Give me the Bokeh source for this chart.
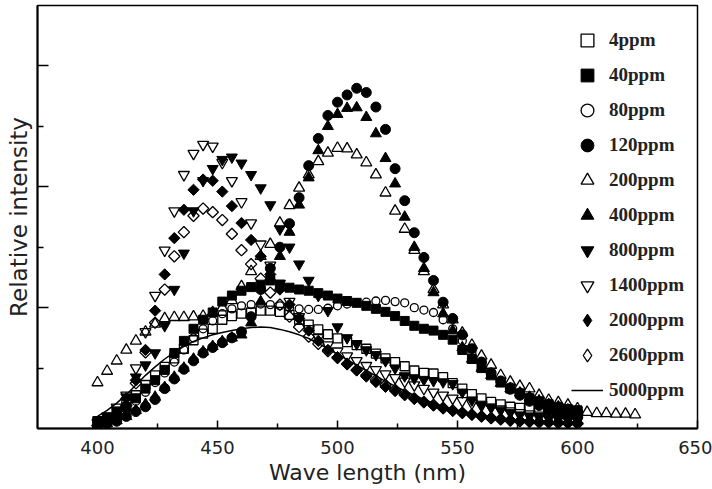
import math
from bokeh.plotting import figure
from bokeh.models import Legend, LegendItem, FixedTicker
from bokeh.embed import file_html
from bokeh.resources import INLINE

# ---------------- data ----------------
wavelength = [400 + 4 * i for i in range(51)]           # 400 .. 600 nm
wavelength_200 = [400 + 4 * i for i in range(57)]       # 400 .. 624 nm

ppm_4 = [0.12, 0.18, 0.28, 0.40, 0.55, 0.72, 0.88, 1.02, 1.16, 1.32,
         1.46, 1.57, 1.65, 1.80, 1.86, 1.90, 1.92, 1.95, 1.95, 1.93,
         1.88, 1.80, 1.72, 1.64, 1.56, 1.49, 1.43, 1.38, 1.32, 1.24,
         1.16, 1.10, 1.03, 0.96, 0.92, 0.91, 0.85, 0.75, 0.66, 0.57,
         0.50, 0.44, 0.40, 0.36, 0.34, 0.33, 0.32, 0.30, 0.30, 0.29, 0.28]
ppm_40 = [0.12, 0.18, 0.25, 0.35, 0.50, 0.66, 0.80, 0.97, 1.25, 1.45,
          1.65, 1.80, 1.92, 2.10, 2.20, 2.28, 2.34, 2.38, 2.45, 2.38,
          2.33, 2.30, 2.28, 2.24, 2.20, 2.15, 2.11, 2.08, 2.03, 1.98,
          1.93, 1.86, 1.78, 1.70, 1.65, 1.62, 1.55, 1.47, 1.30, 1.15,
          1.00, 0.88, 0.76, 0.66, 0.58, 0.50, 0.45, 0.40, 0.35, 0.32, 0.30]
ppm_80 = [0.10, 0.15, 0.22, 0.32, 0.45, 0.60, 0.76, 0.92, 1.10, 1.30,
          1.50, 1.65, 1.78, 1.90, 1.98, 2.03, 2.05, 2.06, 2.05, 2.03,
          2.00, 1.98, 1.97, 1.97, 1.99, 2.03, 2.06, 2.08, 2.09, 2.11,
          2.12, 2.10, 2.08, 2.00, 1.96, 1.92, 1.80, 1.65, 1.45, 1.25,
          1.08, 0.93, 0.80, 0.69, 0.60, 0.52, 0.46, 0.41, 0.37, 0.33, 0.30]
ppm_120 = [0.05, 0.08, 0.12, 0.20, 0.28, 0.36, 0.48, 0.66, 0.82, 0.98,
           1.12, 1.25, 1.34, 1.42, 1.50, 1.60, 1.85, 2.30, 2.65, 3.00,
           3.39, 3.82, 4.35, 4.80, 5.18, 5.40, 5.52, 5.63, 5.56, 5.32,
           4.95, 4.30, 3.77, 3.24, 2.83, 2.45, 2.09, 1.82, 1.55, 1.32,
           1.10, 0.92, 0.78, 0.65, 0.55, 0.45, 0.38, 0.30, 0.25, 0.20, 0.18]
ppm_200 = [0.76, 0.95, 1.12, 1.30, 1.45, 1.60, 1.73, 1.82, 1.84, 1.84,
           1.85, 1.86, 1.92, 2.00, 2.12, 2.35, 2.60, 2.85, 3.05, 3.40,
           3.69, 3.98, 4.20, 4.42, 4.56, 4.64, 4.63, 4.53, 4.40, 4.20,
           3.90, 3.60, 3.30, 2.95, 2.60, 2.30, 2.05, 1.80, 1.58, 1.38,
           1.20, 1.05, 0.88, 0.77, 0.70, 0.66, 0.55, 0.47, 0.43, 0.39,
           0.33, 0.27, 0.25, 0.25, 0.24, 0.24, 0.23]
ppm_400 = [0.05, 0.08, 0.13, 0.20, 0.30, 0.40, 0.52, 0.68, 0.85, 1.00,
           1.15, 1.27, 1.36, 1.44, 1.50, 1.55, 1.75, 2.10, 2.50, 2.85,
           3.25, 3.70, 4.15, 4.60, 5.00, 5.20, 5.30, 5.31, 5.15, 4.88,
           4.47, 4.05, 3.50, 3.00, 2.65, 2.25, 1.90, 1.62, 1.34, 1.15,
           1.00, 0.88, 0.75, 0.66, 0.59, 0.52, 0.46, 0.40, 0.36, 0.31, 0.28]
ppm_800 = [0.08, 0.15, 0.30, 0.52, 0.85, 1.05, 1.25, 1.70, 2.30, 2.90,
           3.60, 4.10, 4.30, 4.45, 4.49, 4.39, 4.20, 3.98, 3.70, 3.30,
           3.00, 2.72, 2.45, 2.20, 1.95, 1.68, 1.50, 1.40, 1.30, 1.22,
           1.12, 1.00, 0.87, 0.83, 0.81, 0.79, 0.77, 0.74, 0.60, 0.47,
           0.40, 0.35, 0.30, 0.26, 0.22, 0.20, 0.18, 0.16, 0.15, 0.14, 0.13]
ppm_1400 = [0.10, 0.20, 0.35, 0.55, 1.00, 1.60, 2.20, 2.95, 3.60, 4.20,
            4.55, 4.70, 4.67, 4.40, 4.10, 3.75, 3.40, 3.05, 2.70, 2.40,
            2.10, 1.85, 1.65, 1.50, 1.38, 1.28, 1.20, 1.12, 1.04, 0.97,
            0.90, 0.84, 0.78, 0.72, 0.66, 0.60, 0.55, 0.50, 0.46, 0.42,
            0.38, 0.35, 0.32, 0.29, 0.26, 0.24, 0.22, 0.20, 0.19, 0.18, 0.17]
ppm_2000 = [0.05, 0.10, 0.25, 0.50, 0.80, 1.30, 1.95, 2.55, 3.15, 3.62,
            3.95, 4.12, 4.10, 3.92, 3.68, 3.40, 3.12, 2.85, 2.55, 2.30,
            2.05, 1.82, 1.62, 1.45, 1.30, 1.18, 1.06, 0.96, 0.86, 0.77,
            0.69, 0.62, 0.55, 0.49, 0.43, 0.38, 0.33, 0.29, 0.26, 0.23,
            0.20, 0.18, 0.16, 0.14, 0.13, 0.12, 0.11, 0.10, 0.10, 0.09, 0.09]
ppm_2600 = [0.05, 0.10, 0.20, 0.38, 0.75, 1.26, 1.75, 2.30, 2.85, 3.25,
            3.52, 3.64, 3.58, 3.45, 3.22, 2.95, 2.72, 2.48, 2.25, 2.05,
            1.85, 1.68, 1.52, 1.40, 1.28, 1.17, 1.07, 0.97, 0.88, 0.80,
            0.72, 0.64, 0.57, 0.50, 0.44, 0.39, 0.34, 0.30, 0.26, 0.23,
            0.20, 0.17, 0.15, 0.13, 0.12, 0.11, 0.10, 0.10, 0.09, 0.09, 0.08]
ppm_5000 = [0.20, 0.30, 0.42, 0.56, 0.72, 0.88, 1.02, 1.15, 1.26, 1.36,
            1.44, 1.50, 1.55, 1.59, 1.62, 1.65, 1.67, 1.68, 1.67, 1.64,
            1.60, 1.55, 1.49, 1.41, 1.32, 1.23, 1.14, 1.05, 0.96, 0.87,
            0.78, 0.70, 0.62, 0.55, 0.48, 0.42, 0.37, 0.32, 0.28, 0.24,
            0.21, 0.18, 0.16, 0.14, 0.12, 0.11, 0.10, 0.09, 0.08, 0.07, 0.07]

x_ticks = [400, 450, 500, 550, 600, 650]
x_minor = [425, 475, 525, 575, 625]
y_ticks = [2, 4, 6]
y_minor = [1, 3, 5]

# ---------------- figure ----------------
p = figure(width=712, height=489, x_range=(375, 650), y_range=(0, 7),
           output_backend="svg", toolbar_location=None,
           min_border_left=37, min_border_right=15,
           min_border_top=5, min_border_bottom=61)
p.grid.visible = False
p.outline_line_color = "black"
p.outline_line_width = 1.5
p.background_fill_color = "white"
p.border_fill_color = "white"

xa = p.xaxis[0]
xa.ticker = FixedTicker(ticks=x_ticks, minor_ticks=x_minor)
xa.major_tick_in = 8
xa.major_tick_out = 0
xa.minor_tick_in = 5
xa.minor_tick_out = 0
xa.axis_line_width = 2
xa.major_tick_line_width = 1.5
xa.minor_tick_line_width = 1.5
xa.major_label_standoff = 12
xa.major_label_text_font = "DejaVu Sans"
xa.major_label_text_font_size = "18px"
xa.major_label_text_color = "#222222"
xa.axis_label = "Wave length (nm)"
xa.axis_label_text_font = "DejaVu Sans"
xa.axis_label_text_font_size = "22px"
xa.axis_label_text_font_style = "normal"
xa.axis_label_text_color = "#222222"
xa.axis_label_standoff = 3

ya = p.yaxis[0]
ya.ticker = FixedTicker(ticks=y_ticks, minor_ticks=y_minor)
ya.major_tick_in = 11
ya.major_tick_out = 0
ya.minor_tick_in = 6
ya.minor_tick_out = 0
ya.axis_line_width = 2
ya.major_tick_line_width = 1.5
ya.minor_tick_line_width = 1.5
ya.major_label_overrides = {t: "" for t in y_ticks}
ya.major_label_standoff = 0
ya.axis_label = "Relative intensity"
ya.axis_label_text_font = "DejaVu Sans"
ya.axis_label_text_font_size = "23px"
ya.axis_label_text_font_style = "normal"
ya.axis_label_text_color = "#222222"
ya.axis_label_standoff = 6

r5000 = p.line(wavelength, ppm_5000, line_color="black", line_width=1.5)

def open_marker(x, y, marker, size, angle=0.0, visible=True):
    return p.scatter(x, y, marker=marker, size=size, angle=angle,
                     line_color="black", fill_color=None, line_width=1.3,
                     visible=visible)

def solid_marker(x, y, marker, size, angle=0.0, visible=True):
    return p.scatter(x, y, marker=marker, size=size, angle=angle,
                     line_color="black", fill_color="black", line_width=1,
                     visible=visible)

r4 = open_marker(wavelength, ppm_4, "square", 9)
r40 = solid_marker(wavelength, ppm_40, "square", 9)
r80 = open_marker(wavelength, ppm_80, "circle", 8)
r120 = solid_marker(wavelength, ppm_120, "circle", 10)
r200 = open_marker(wavelength_200, ppm_200, "triangle", 11)
r400 = solid_marker(wavelength, ppm_400, "triangle", 11)
r800 = solid_marker(wavelength, ppm_800, "inverted_triangle", 11)
r1400 = open_marker(wavelength, ppm_1400, "inverted_triangle", 11)
# diamonds drawn as squares turned by 45 degrees
r2000 = solid_marker(wavelength, ppm_2000, "square", 8, math.pi / 4)
r2600 = open_marker(wavelength, ppm_2600, "square", 8, math.pi / 4)
# hidden twins whose diamond glyph is shown in the legend
k2000 = solid_marker(wavelength, ppm_2000, "diamond", 13, visible=False)
k2600 = open_marker(wavelength, ppm_2600, "diamond", 13, visible=False)

items = [
    LegendItem(label="4ppm", renderers=[r4]),
    LegendItem(label="40ppm", renderers=[r40]),
    LegendItem(label="80ppm", renderers=[r80]),
    LegendItem(label="120ppm", renderers=[r120]),
    LegendItem(label="200ppm", renderers=[r200]),
    LegendItem(label="400ppm", renderers=[r400]),
    LegendItem(label="800ppm", renderers=[r800]),
    LegendItem(label="1400ppm", renderers=[r1400]),
    LegendItem(label="2000ppm", renderers=[k2000]),
    LegendItem(label="2600ppm", renderers=[k2600]),
    LegendItem(label="5000ppm", renderers=[r5000]),
]
legend = Legend(items=items, location=(534, 22), orientation="vertical",
                glyph_width=32, glyph_height=32, label_height=32,
                spacing=3, padding=0, margin=0, label_standoff=6,
                border_line_color=None, background_fill_alpha=0,
                label_text_font="Liberation Serif",
                label_text_font_size="19px",
                label_text_font_style="bold",
                label_text_color="#222222")
p.add_layout(legend)

open("out.html", "w").write(file_html(p, INLINE))
